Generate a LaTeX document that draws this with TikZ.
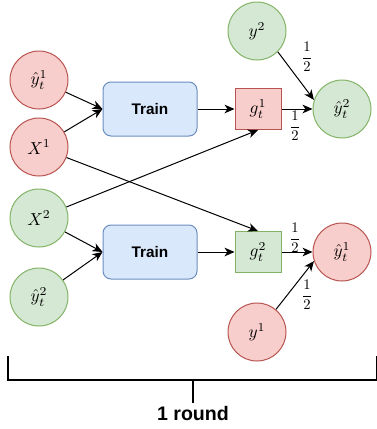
\documentclass[tikz,border=0pt]{standalone}
\usepackage{fontspec}
\setmainfont{Liberation Sans}
\usepackage{amsmath}
\usepackage{graphicx}
\usetikzlibrary{arrows.meta}
\definecolor{rfill}{HTML}{F8CECC}
\definecolor{rdraw}{HTML}{B85450}
\definecolor{gfill}{HTML}{D5E8D4}
\definecolor{gdraw}{HTML}{82B366}
\definecolor{bfill}{HTML}{DAE8FC}
\definecolor{bdraw}{HTML}{6C8EBF}
\newcommand{\mbig}[1]{\scalebox{1.3}{$#1$}}
\newcommand{\mhalf}{\scalebox{1.1}{$\dfrac{1}{2}$}}
\begin{document}
\begin{tikzpicture}[x=0.75pt,y=-0.75pt,
  circ/.style={circle,minimum size=43.5pt,inner sep=0pt,line width=0.75pt},
  redc/.style={circ,draw=rdraw,fill=rfill},
  greenc/.style={circ,draw=gdraw,fill=gfill},
  trainbox/.style={rectangle,rounded corners=6pt,draw=bdraw,fill=bfill,line width=0.75pt,minimum width=70.5pt,minimum height=40.5pt,font=\fontsize{11.5}{13}\selectfont\bfseries},
  gbox/.style={rectangle,line width=0.75pt,minimum width=34.5pt,minimum height=30.75pt,inner sep=0pt},
  arr/.style={line width=0.75pt,-{Stealth[length=7.5pt,width=6.5pt,inset=2.2pt]}},
  half/.style={inner sep=0pt},
  brk/.style={line width=1.5pt}
]
\useasboundingbox (0,0) rectangle (377,429);
% left column
\node[redc] (yh1l) at (39,80) {\mbig{\hat{y}_t^1}};
\node[redc] (x1) at (39,147) {\mbig{X^1}};
\node[greenc] (x2) at (39,218) {\mbig{X^2}};
\node[greenc] (yh2l) at (39,297) {\mbig{\hat{y}_t^2}};
% train boxes
\node[trainbox] (t1) at (150,109) {Train};
\node[trainbox] (t2) at (150,252) {Train};
% g boxes
\node[gbox,draw=rdraw,fill=rfill] (g1) at (258,109) {\mbig{g_t^1}};
\node[gbox,draw=gdraw,fill=gfill] (g2) at (258,252) {\mbig{g_t^2}};
% right circles
\node[greenc] (y2) at (257,31) {\mbig{y^2}};
\node[greenc] (yh2r) at (342,109) {\mbig{\hat{y}_t^2}};
\node[redc] (yh1r) at (342,252) {\mbig{\hat{y}_t^1}};
\node[redc] (y1) at (257,332) {\mbig{y^1}};
% arrows into train
\draw[arr] (yh1l) -- (t1.west);
\draw[arr] (x1) -- (t1.west);
\draw[arr] (x2) -- (t2.west);
\draw[arr] (yh2l) -- (t2.west);
% crossing arrows
\draw[arr] (x1) -- (g2.north);
\draw[arr] (x2) -- (g1.south);
% train to g
\draw[arr] (t1.east) -- (g1.west);
\draw[arr] (t2.east) -- (g2.west);
% g to predictions
\draw[arr] (g1.east) -- (yh2r.west);
\draw[arr] (g2.east) -- (yh1r.west);
\draw[arr] (y2.-45) -- (yh2r.162);
\draw[arr] (y1.50) -- (yh1r.198);
% weights
\node[half] (w1) at (307,57) {\mhalf};
\node[half] (w2) at (295,126) {\mhalf};
\node[half] (w3) at (295,238) {\mhalf};
\node[half] (w4) at (307,295) {\mhalf};
% bracket
\coordinate (bl) at (8,356);
\coordinate (bc) at (8,380);
\coordinate (br) at (377,380);
\coordinate (brt) at (377,356);
\coordinate (bm) at (193,380);
\coordinate (bmt) at (193,403);
\draw[brk] (bl) -- (bc) -- (br) -- (brt);
\draw[brk] (bm) -- (bmt);
\node[font=\fontsize{14.7}{17}\selectfont\bfseries] (lab) at (193,413) {1 round};
\end{tikzpicture}
\end{document}
